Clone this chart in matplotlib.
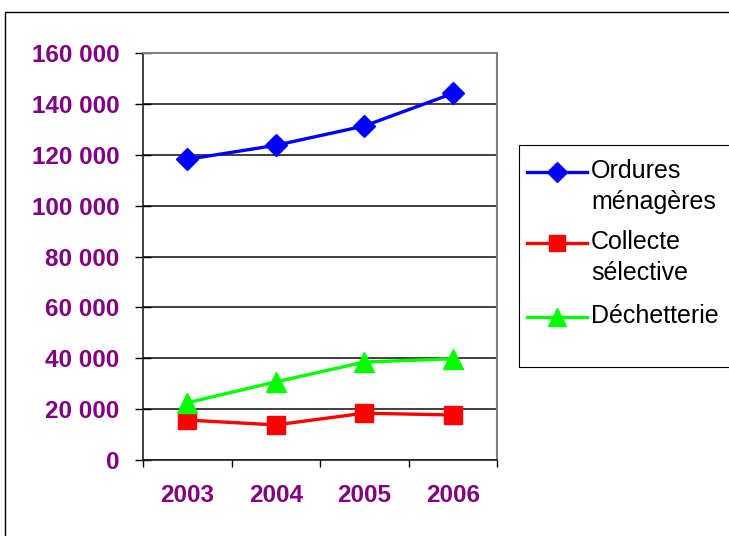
import matplotlib.pyplot as plt
from matplotlib.lines import Line2D
from matplotlib.patches import Rectangle
from matplotlib.ticker import FixedLocator, FuncFormatter

# data (tonnes)
years = ["2003", "2004", "2005", "2006"]
ordures = [118200, 123700, 131300, 144100]
collecte = [15700, 13800, 18400, 17700]
dechetterie = [22500, 30700, 38500, 39800]
labels = ["Ordures\nménagères", "Collecte\nsélective", "Déchetterie"]

PURPLE = "#800080"
colors = ["#0000FF", "#FF0000", "#00FF00"]
markers = ["D", "s", "^"]
msizes = [11, 13.5, 14]

plt.rcParams["font.family"] = ["Liberation Sans", "DejaVu Sans"]

fig = plt.figure(figsize=(7.29, 5.36), dpi=100)
W, H = 729, 536

# outer chart frame (clipped by the image edges on right/bottom)
fig.patches.append(Rectangle((5 / W, -0.05), 1.1, 1 - 12 / H + 0.05,
                             transform=fig.transFigure, fill=False,
                             edgecolor="black", linewidth=1.0))

ax = fig.add_axes([143 / W, 1 - 460 / H, (497 - 143) / W, (460 - 53) / H])
x = range(len(years))

for vals, c, m, ms in zip([ordures, collecte, dechetterie], colors, markers, msizes):
    ax.plot(x, vals, color=c, lw=2.4, marker=m, ms=ms, zorder=3)

ax.set_xlim(-0.5, 3.5)
ax.set_ylim(0, 160000)
ax.set_yticks(range(0, 160001, 20000))
ax.yaxis.set_major_formatter(FuncFormatter(lambda v, p: f"{int(v):,}".replace(",", " ")))
ax.set_xticks(list(x))
ax.set_xticklabels(years)
ax.xaxis.set_minor_locator(FixedLocator([-0.5, 0.5, 1.5, 2.5, 3.5]))

ax.grid(axis="y", color="#202020", lw=1.2)
ax.set_axisbelow(True)
for s in ["top", "right"]:
    ax.spines[s].set_color("#808080")
    ax.spines[s].set_linewidth(1.5)
for s in ["left", "bottom"]:
    ax.spines[s].set_color("#202020")
    ax.spines[s].set_linewidth(1.2)

ax.tick_params(axis="y", direction="inout", length=11, width=1, pad=11.5,
               labelsize=17.5, labelcolor=PURPLE)
ax.tick_params(axis="x", which="major", length=0, pad=17,
               labelsize=17.5, labelcolor=PURPLE)
ax.tick_params(axis="x", which="minor", direction="out", length=5, width=1)
for t in ax.get_xticklabels() + ax.get_yticklabels():
    t.set_fontweight("bold")

# legend drawn by hand, Excel style (handle level with first text line)
fig.patches.append(Rectangle((519 / W, 1 - 367 / H), 0.4, (367 - 145) / H,
                             transform=fig.transFigure, fill=False,
                             edgecolor="black", linewidth=0.8))
rows = [172, 243, 317]
for lab, c, m, ms, yr in zip(labels, colors, markers, msizes, rows):
    yf = 1 - yr / H
    fig.lines.append(Line2D([527 / W, 587 / W], [yf, yf], transform=fig.transFigure,
                            color=c, lw=2.4))
    fig.lines.append(Line2D([557 / W], [yf], transform=fig.transFigure,
                            color=c, marker=m, ms=ms * 0.9, lw=0))
    for i, line in enumerate(lab.split("\n")):
        fig.text(591 / W, 1 - (yr + 6 + i * 31) / H, line, fontsize=18,
                 ha="left", va="baseline", color="black")

fig.savefig("out.png", dpi=100)
